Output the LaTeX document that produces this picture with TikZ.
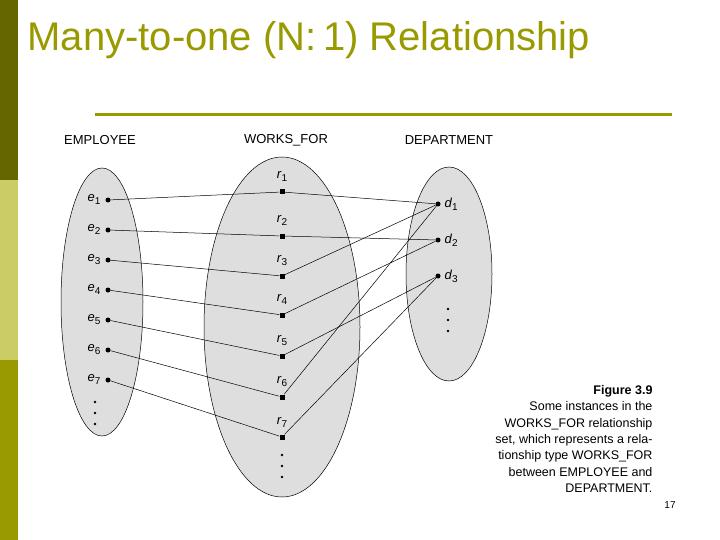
\documentclass[tikz,border=0pt]{standalone}
\usepackage{fontspec}
\setmainfont{Liberation Sans}
\newcommand{\mysub}[2]{\textit{#1}\raisebox{-3pt}{\fontsize{10}{10}\selectfont #2}}
\begin{document}
\begin{tikzpicture}[x=1pt,y=-1pt,
  pt/.style={circle,fill=black,inner sep=0pt,minimum size=5pt},
  sq/.style={rectangle,fill=black,inner sep=0pt,minimum size=5pt},
  lab/.style={font=\fontsize{13}{13}\selectfont},
  set/.style={draw=black,fill=black!13,line width=0.5pt},
  ln/.style={line width=0.5pt}]
\useasboundingbox (0,0) rectangle (720,540);
\fill[white] (0,0) rectangle (720,540);
\fill[fill={rgb,255:red,102;green,102;blue,0}] (0,0) rectangle (18,180);
\fill[fill={rgb,255:red,204;green,204;blue,102}] (0,180) rectangle (18,360);
\fill[fill={rgb,255:red,153;green,153;blue,0}] (0,360) rectangle (18,540);
\node[anchor=west,text={rgb,255:red,153;green,153;blue,0},font=\fontsize{40}{40}\selectfont] (title) at (24,40) {Many-to-one (N:\,1) Relationship};
\coordinate (l1) at (95,115); \coordinate (l2) at (672,115);
\draw[line width=3pt,draw={rgb,255:red,153;green,153;blue,0}] (l1) -- (l2);
\node[lab] (h1) at (100,140) {EMPLOYEE};
\node[lab] (h2) at (286,140) {WORKS\_FOR};
\node[lab] (h3) at (449,140) {DEPARTMENT};
\draw[set] (102,302) ellipse [x radius=41,y radius=134];
\draw[set] (282,327) ellipse [x radius=78,y radius=170];
\draw[set] (449,274) ellipse [x radius=43,y radius=107];
\foreach \i/\y in {1/200,2/230,3/260,4/290,5/320,6/350,7/380}{
  \node[pt] (e\i) at (108,\y) {};
  \node[lab,anchor=east] (le\i) at (104,\y) {\mysub{e}{\i}};
}
\foreach \i/\y in {1/192,2/236,3/276,4/315,5/356,6/397,7/437}{
  \node[sq] (r\i) at (282,\y) {};
  \node[lab] (lr\i) at (282,\y-15) {\mysub{r}{\i}};
}
\foreach \i/\y in {1/204,2/240,3/276}{
  \node[pt] (d\i) at (438,\y) {};
  \node[lab,anchor=west] (ld\i) at (441,\y) {\mysub{d}{\i}};
}
\foreach \x/\y in {95/402,95/413,95/424,448/309,448/320,448/331,282/455,282/466,282/477}
  \fill (\x,\y) circle (1.3);
\foreach \i in {1,...,7} \draw[ln] (e\i) -- (r\i);
\foreach \a/\b in {1/1,2/2,3/1,4/2,5/3,6/1,7/3} \draw[ln] (r\a) -- (d\b);
\node[anchor=north east,align=right,font=\fontsize{12.5}{16.3}\selectfont] (cap) at (656,382)
 {\textbf{Figure 3.9}\\Some instances in the\\WORKS\_FOR relationship\\set, which represents a rela-\\tionship type WORKS\_FOR\\between EMPLOYEE and\\DEPARTMENT.};
\node[font=\fontsize{10}{10}\selectfont] (pg) at (670,505) {17};
\end{tikzpicture}
\end{document}
